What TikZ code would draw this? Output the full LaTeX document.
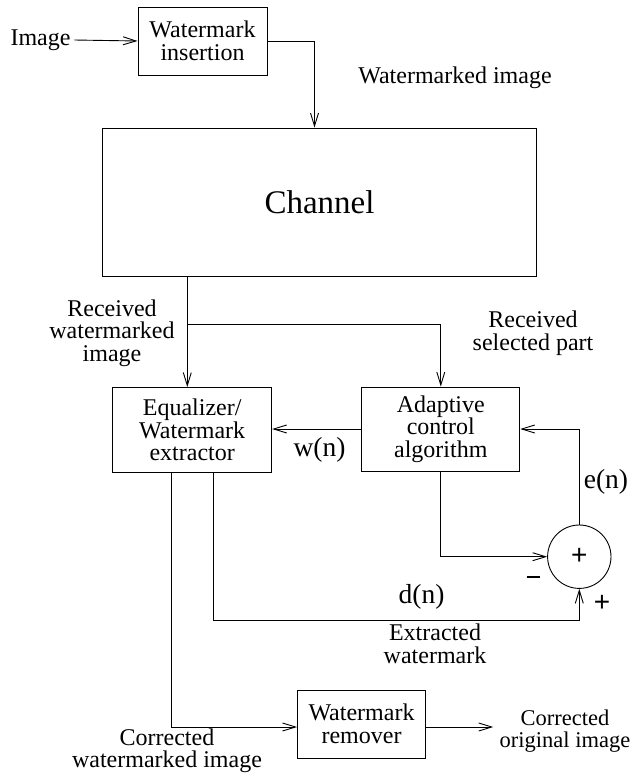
\documentclass[tikz,border=0pt]{standalone}
\usepackage{fontspec}
\setmainfont{Liberation Serif}
\newfontfamily\diagfont{Liberation Serif}
\newfontfamily\signfont{Liberation Sans}
\usetikzlibrary{arrows.meta}
\begin{document}
\begin{tikzpicture}[x=1pt,y=-1pt,line width=0.9pt,
  every node/.style={font=\diagfont\fontsize{24}{22.5}\selectfont},
  blk/.style={draw,rectangle,align=center,inner sep=0pt},
  lbl/.style={align=center},
  sig/.style={font=\diagfont\fontsize{27.5}{27}\selectfont},
  pm/.style={font=\signfont\fontsize{28}{28}\selectfont,inner sep=0pt},
  arr/.style={-{Straight Barb[length=13pt,width=8pt,line width=0.9pt]}}]
\useasboundingbox (0,0) rectangle (633,779);

% blocks
\node[blk,minimum width=129,minimum height=68] (ins) at (202.5,41) {Watermark\\insertion};
\node[blk,minimum width=434,minimum height=148,font=\diagfont\fontsize{33}{33}\selectfont] (chan) at (319.5,202) {Channel};
\node[blk,minimum width=159,minimum height=85] (eq) at (192.2,430) {Equalizer/\\Watermark\\extractor};
\node[blk,minimum width=158,minimum height=84] (adapt) at (440.8,429) {Adaptive\\control\\algorithm};
\node[draw,circle,minimum size=63.4,pm] (sum) at (579.3,556.7) {+};
\node[blk,minimum width=128,minimum height=68] (rem) at (361.5,724) {Watermark\\remover};

% text labels
\node[lbl] (img) at (40.5,40) {Image};
\node[lbl] (wmi) at (455,78) {Watermarked image};
\node[lbl] (rwi) at (112,333) {Received\\watermarked\\image};
\node[lbl] (rsp) at (533,333) {Received\\selected part};
\node[sig] (wn) at (319.5,450) {w(n)};
\node[sig] (en) at (606,482) {e(n)};
\node[sig] (dn) at (421.5,597) {d(n)};
\node[inner sep=0pt] (minus) at (533,577) {\rule{13pt}{2pt}};
\node[pm] (plus) at (602,603) {+};
\node[lbl] (ext) at (435,644) {Extracted\\watermark};
\node[lbl] (cwi) at (167,751) {Corrected\\watermarked image};
\node[lbl,inner sep=0pt,font=\diagfont\fontsize{22.5}{22}\selectfont] (out) at (565,731) {Corrected\\original image};

% tap points on the wires
\coordinate (tap) at (187.3,324);
\coordinate (dx) at (213.3,620.7);
\coordinate (cx) at (171.7,727);

% connectors
\draw[arr] (img.east) -- (ins.west);
\draw[arr] (ins.east) -| ([xshift=-5pt]chan.north);
\draw[arr] (tap |- chan.south) -- (tap |- eq.north);
\draw[arr] (tap) -| (adapt.north);
\draw[arr] (adapt.west) -- (adapt.west -| eq.east);
\draw[arr] (sum.north) |- (adapt.east);
\draw[arr] (adapt.south) |- (sum.west);
\draw[arr] (dx |- eq.south) -- (dx) -| (sum.south);
\draw[arr] (cx |- eq.south) -- (cx) -- (cx -| rem.west);
\draw[arr] (cx -| rem.east) -- ([xshift=-6pt]cx -| out.west);
\end{tikzpicture}
\end{document}
